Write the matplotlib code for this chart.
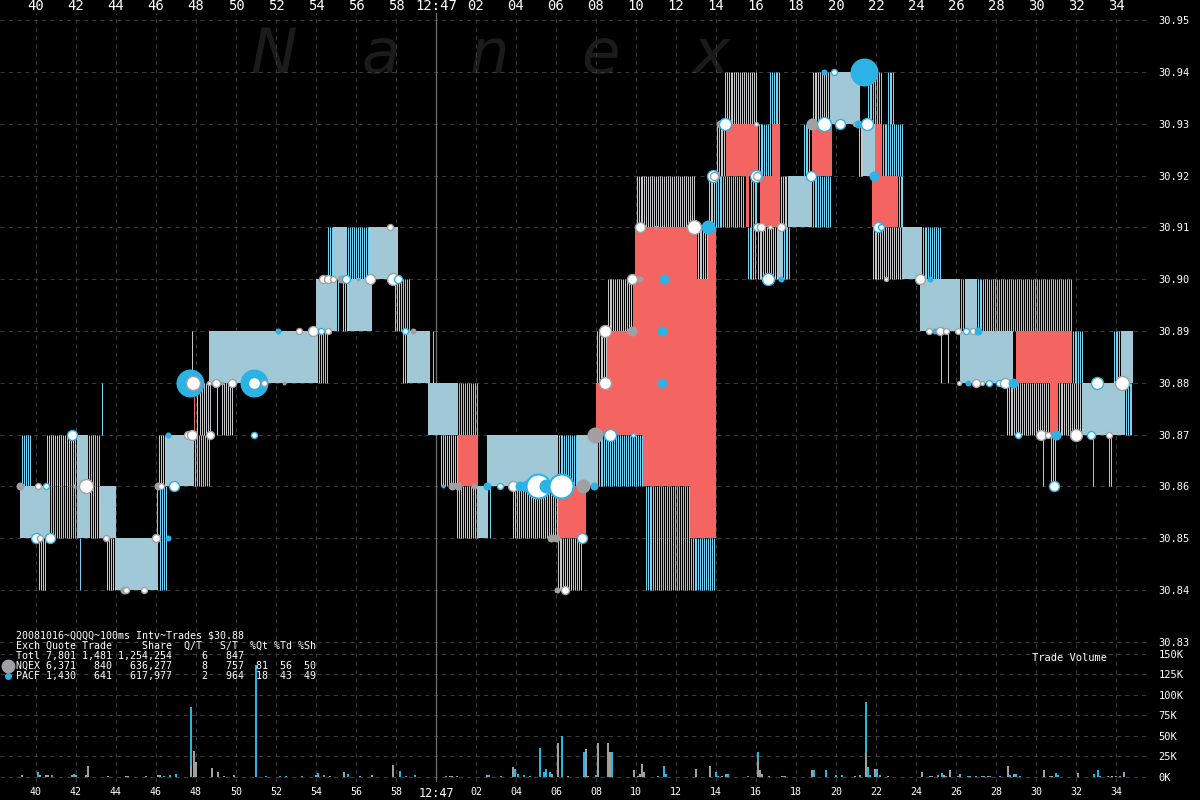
import numpy as np
import matplotlib
matplotlib.use("Agg")
import matplotlib.pyplot as plt

# time axis = seconds after 12:46:00 (60 -> 12:47:00)
# quote bands: start, end, low, high, state (S = both at NBBO, G = NQEX only,
# B = PACF only, R = crossed/locked)
seg_t0 = [39.25, 39.2, 40.5, 42.1, 42.6, 40.7, 42.1, 42.7, 43.2, 40.1,
          42.15, 43.25, 43.5, 43.95, 46.05, 46.1, 46.5, 47.9, 47.8, 47.9,
          48.05, 49.0, 49.25, 48.65, 54.1, 54.0, 55.05, 55.3, 55.6, 54.55,
          54.85, 55.55, 56.65, 57.9, 58.2, 58.3, 58.6, 59.8, 59.6, 61.1,
          60.2, 61.1, 61.0, 62.05, 62.65, 62.55, 66.1, 67.05, 68.1, 63.8,
          66.1, 66.05, 68.0, 68.0, 68.55, 68.55, 69.85, 69.95, 73.05, 73.6,
          70.35, 72.7, 70.45, 72.7, 70.0, 73.6, 73.95, 75.5, 75.7, 76.2,
          77.2, 77.6, 78.8, 74.0, 74.5, 76.1, 76.8, 78.35, 78.8, 81.1,
          81.35, 81.95, 82.3, 74.4, 76.65, 78.8, 79.7, 81.55, 82.55, 75.55,
          76.05, 77.1, 77.35, 81.8, 83.3, 84.3, 81.8, 83.1, 84.2, 86.2,
          86.45, 87.05, 85.2, 85.55, 86.2, 89.0, 91.8, 93.85, 94.25, 88.5,
          90.7, 91.1, 92.3, 94.45, 90.3, 90.7, 92.8, 93.6]
seg_t1 = [39.7, 40.7, 42.1, 42.6, 43.2, 42.1, 42.7, 43.2, 44.0, 40.45,
          42.2, 43.3, 43.95, 46.05, 46.5, 46.5, 47.9, 48.7, 47.85, 47.95,
          48.75, 49.05, 49.85, 54.1, 54.6, 55.05, 55.15, 55.6, 56.8, 54.85,
          55.55, 56.65, 58.1, 58.2, 58.7, 58.6, 59.7, 59.85, 61.1, 62.1,
          61.1, 62.1, 62.05, 62.6, 62.7, 66.1, 67.05, 68.1, 70.35, 66.05,
          67.5, 67.35, 68.55, 74.0, 74.0, 69.85, 74.0, 73.05, 73.6, 74.0,
          74.0, 74.0, 72.7, 74.0, 72.95, 74.05, 75.45, 75.65, 76.05, 77.2,
          77.6, 78.8, 79.8, 74.5, 76.1, 76.8, 77.2, 78.7, 79.8, 81.35,
          81.95, 82.3, 83.35, 76.05, 77.2, 79.7, 81.2, 82.3, 82.9, 76.05,
          77.1, 77.35, 77.7, 83.3, 84.3, 85.3, 83.1, 83.35, 86.2, 86.45,
          87.05, 91.8, 85.3, 85.65, 88.85, 91.8, 92.35, 94.25, 94.85, 90.7,
          91.1, 92.3, 94.45, 94.85, 90.35, 90.95, 92.85, 93.8]
seg_lo = [30.86, 30.85, 30.86, 30.86, 30.86, 30.85, 30.85, 30.85, 30.85, 30.84,
          30.84, 30.87, 30.84, 30.84, 30.84, 30.86, 30.86, 30.86, 30.88, 30.87,
          30.87, 30.87, 30.87, 30.88, 30.88, 30.89, 30.89, 30.89, 30.89, 30.90,
          30.90, 30.90, 30.90, 30.89, 30.89, 30.88, 30.88, 30.88, 30.87, 30.87,
          30.86, 30.86, 30.85, 30.85, 30.85, 30.86, 30.86, 30.86, 30.86, 30.85,
          30.85, 30.84, 30.88, 30.87, 30.88, 30.89, 30.89, 30.90, 30.90, 30.90,
          30.86, 30.85, 30.84, 30.84, 30.91, 30.91, 30.91, 30.91, 30.91, 30.91,
          30.91, 30.91, 30.91, 30.92, 30.92, 30.92, 30.92, 30.92, 30.92, 30.92,
          30.92, 30.92, 30.92, 30.93, 30.93, 30.93, 30.93, 30.93, 30.93, 30.90,
          30.90, 30.90, 30.90, 30.90, 30.90, 30.90, 30.91, 30.91, 30.89, 30.89,
          30.89, 30.89, 30.88, 30.88, 30.88, 30.88, 30.88, 30.88, 30.88, 30.87,
          30.87, 30.87, 30.87, 30.87, 30.86, 30.86, 30.86, 30.86]
seg_hi = [30.87, 30.86, 30.87, 30.87, 30.87, 30.86, 30.86, 30.86, 30.86, 30.85,
          30.85, 30.88, 30.85, 30.85, 30.86, 30.87, 30.87, 30.87, 30.89, 30.88,
          30.88, 30.88, 30.88, 30.89, 30.89, 30.90, 30.90, 30.90, 30.90, 30.91,
          30.91, 30.91, 30.91, 30.90, 30.90, 30.89, 30.89, 30.89, 30.88, 30.88,
          30.87, 30.87, 30.86, 30.86, 30.86, 30.87, 30.87, 30.87, 30.87, 30.86,
          30.86, 30.85, 30.89, 30.88, 30.89, 30.90, 30.90, 30.91, 30.91, 30.91,
          30.87, 30.86, 30.86, 30.85, 30.92, 30.92, 30.92, 30.92, 30.92, 30.92,
          30.92, 30.92, 30.92, 30.93, 30.93, 30.93, 30.93, 30.93, 30.93, 30.93,
          30.93, 30.93, 30.93, 30.94, 30.94, 30.94, 30.94, 30.94, 30.94, 30.91,
          30.91, 30.91, 30.91, 30.91, 30.91, 30.91, 30.92, 30.92, 30.90, 30.90,
          30.90, 30.90, 30.89, 30.89, 30.89, 30.89, 30.89, 30.89, 30.89, 30.88,
          30.88, 30.88, 30.88, 30.88, 30.87, 30.87, 30.87, 30.87]
seg_kind = ("BSGSBBSGSG" "BBGSBGSBGR" "GGGSBSBGSB" "SBSGBGSBSB"
            "GRGSBSBSBG" "RGGRRGRRGR" "RRBBGGBRBR" "GSBGRBRBRG"
            "SRBGBGSBBB" "GSBGSBRBSB" "SBGGSRBBSG" "RGSBGGBG")

# trades: time, price, exchange (N = NQEX, P = PACF), dot radius, open dot
trade_t = [39.2, 40.1, 40.5, 41.9, 42.5, 40.0, 40.2, 40.7, 41.8, 43.5,
           44.4, 44.5, 45.4, 46.0, 46.6, 46.1, 46.25, 46.9, 46.6, 47.6,
           47.8, 48.7, 47.7, 47.85, 48.65, 49.0, 49.3, 49.8, 50.9, 50.9,
           51.4, 52.4, 50.9, 52.1, 53.15, 53.85, 54.25, 54.6, 54.35, 54.6,
           54.85, 55.25, 55.5, 56.1, 56.7, 57.85, 58.1, 57.7, 58.45, 58.85,
           60.35, 60.8, 61.1, 61.9, 62.55, 63.2, 63.85, 64.2, 64.55, 65.1,
           65.5, 66.25, 67.35, 67.9, 65.75, 66.0, 67.3, 66.05, 66.45, 67.95,
           68.7, 69.85, 68.45, 68.45, 69.8, 71.3, 71.3, 71.4, 69.8, 70.2,
           70.2, 71.0, 72.9, 73.6, 73.85, 73.9, 76.0, 76.05, 74.2, 74.45,
           76.0, 76.05, 76.25, 76.7, 77.25, 76.6, 77.25, 78.75, 78.8, 79.4,
           80.2, 80.95, 81.1, 81.55, 79.4, 79.9, 81.4, 81.9, 82.1, 82.25,
           82.5, 84.2, 84.7, 84.65, 84.95, 85.2, 85.5, 86.1, 86.5, 86.85,
           87.1, 86.15, 86.6, 87.0, 87.3, 87.65, 88.15, 88.45, 88.85, 93.05,
           94.3, 89.1, 90.25, 90.6, 91.0, 92.0, 92.75, 93.65, 90.9]
trade_px = [30.86, 30.86, 30.86, 30.86, 30.86, 30.85, 30.85, 30.85, 30.87, 30.85,
            30.84, 30.84, 30.84, 30.85, 30.85, 30.86, 30.86, 30.86, 30.87, 30.87,
            30.87, 30.87, 30.88, 30.88, 30.88, 30.88, 30.88, 30.88, 30.88, 30.88,
            30.88, 30.88, 30.87, 30.89, 30.89, 30.89, 30.89, 30.89, 30.90, 30.90,
            30.90, 30.90, 30.90, 30.90, 30.90, 30.90, 30.90, 30.91, 30.89, 30.89,
            30.86, 30.86, 30.86, 30.86, 30.86, 30.86, 30.86, 30.86, 30.86, 30.86,
            30.86, 30.86, 30.86, 30.86, 30.85, 30.85, 30.85, 30.84, 30.84, 30.87,
            30.87, 30.87, 30.88, 30.89, 30.89, 30.89, 30.88, 30.90, 30.90, 30.90,
            30.91, 30.91, 30.91, 30.91, 30.92, 30.92, 30.92, 30.92, 30.93, 30.93,
            30.93, 30.91, 30.91, 30.91, 30.91, 30.90, 30.90, 30.92, 30.93, 30.93,
            30.93, 30.93, 30.93, 30.93, 30.94, 30.94, 30.94, 30.92, 30.91, 30.91,
            30.90, 30.90, 30.90, 30.89, 30.89, 30.89, 30.89, 30.89, 30.89, 30.89,
            30.89, 30.88, 30.88, 30.88, 30.88, 30.88, 30.88, 30.88, 30.88, 30.88,
            30.88, 30.87, 30.87, 30.87, 30.87, 30.87, 30.87, 30.87, 30.86]
trade_ex = ("NNPNNPNPPN" "NNNNPNNPPN" "NNPNNNNNPP" "NNPPNNPNNN"
            "NNPNNNPNPN" "PNNNPPNPPP" "PPNPNNPNNN" "PPNNNPPPNN"
            "NNNPPNPNNP" "NPNNNPPPNP" "PNPPPPPPPP" "NNPNPNNNPN"
            "PNPNNPPNPP" "NPNNPNPNP")
trade_r = [4, 3, 3, 2, 7, 5, 3, 5, 5, 3,
           4, 3, 3, 4, 3, 4, 3, 5, 3, 4,
           5, 4, 14, 7, 2, 4, 2, 4, 14, 6,
           3, 2, 3, 3, 3, 5, 3, 3, 4, 4,
           3, 4, 4, 2, 5, 6, 4, 3, 3, 3,
           2, 4, 4, 3, 4, 3, 5, 5, 6, 12,
           7, 12, 7, 4, 4, 4, 5, 3, 4, 8,
           6, 2, 6, 6, 5, 5, 5, 5, 5, 3,
           5, 2, 7, 7, 6, 4, 6, 4, 4, 6,
           2, 4, 4, 2, 4, 6, 3, 5, 6, 7,
           5, 2, 4, 6, 3, 3, 14, 5, 5, 3,
           2, 5, 3, 3, 3, 4, 3, 3, 3, 3,
           4, 2, 3, 4, 2, 3, 3, 5, 5, 6,
           7, 3, 5, 3, 5, 6, 4, 3, 5]
trade_open = ("0110111111" "0111001101" "1101110101" "1010111111"
              "1010111110" "0000011001" "0100001010" "1111000010"
              "1010111101" "1111110101" "1101010011" "1101011111"
              "0101111101" "1111011111")

# trade volume per 100ms bin, thousands of shares
voln_t = [39.25, 40.15, 40.45, 40.55, 41.75, 41.95, 42.45, 42.55, 43.55, 44.45,
          44.55, 45.45, 46.05, 46.15, 47.7, 47.85, 47.95, 48.75, 49.05, 49.35,
          49.85, 53.95, 54.65, 55.35, 56.75, 57.8, 60.65, 60.75, 61.0, 62.5,
          63.8, 65.75, 66.05, 66.55, 67.45, 67.55, 68.05, 68.55, 68.65, 69.85,
          70.05, 70.15, 70.25, 70.35, 71.05, 72.95, 73.65, 74.25, 74.45, 76.05,
          76.15, 76.25, 77.25, 77.4, 78.75, 80.9, 81.45, 81.9, 82.55, 84.25,
          84.65, 84.75, 85.05, 85.35, 85.45, 85.65, 86.15, 86.95, 87.35, 87.55,
          88.55, 88.85, 90.35, 90.65, 90.75, 92.05, 93.55, 93.75, 93.95, 94.35]
voln_k = [2, 2, 2, 2, 2, 2, 2, 13, 1, 1,
          1, 1, 2, 2, 13, 32, 18, 11, 6, 1,
          2, 2, 1, 6, 2, 15, 1, 1, 1, 3,
          12, 4, 41, 1, 34, 1, 41, 41, 31, 9,
          1, 4, 16, 6, 1, 10, 13, 1, 4, 18,
          8, 4, 1, 1, 8, 1, 28, 10, 1, 6,
          1, 1, 3, 3, 1, 8, 4, 1, 1, 1,
          13, 4, 8, 1, 1, 5, 1, 1, 1, 6]
volp_t = [40.05, 40.75, 41.85, 46.35, 46.65, 46.95, 47.7, 50.95, 51.45, 52.15,
          52.45, 53.25, 54.05, 54.35, 55.55, 56.15, 58.15, 58.45, 58.9, 60.45,
          62.6, 63.2, 63.9, 64.05, 64.35, 64.65, 65.15, 65.35, 65.45, 65.65,
          66.25, 67.35, 67.95, 68.75, 71.35, 71.45, 73.95, 74.05, 74.55, 75.55,
          76.05, 76.6, 77.3, 78.85, 79.45, 79.95, 80.25, 81.15, 81.45, 81.55,
          81.65, 82.0, 82.15, 85.25, 86.05, 86.55, 86.65, 87.25, 87.65, 88.15,
          88.65, 88.95, 89.15, 90.95, 91.05, 92.85, 93.05, 93.15, 94.15]
volp_k = [6, 2, 4, 1, 2, 4, 85, 136, 1, 1,
          1, 1, 5, 2, 4, 1, 7, 1, 3, 1,
          3, 1, 10, 4, 3, 1, 35, 6, 10, 6,
          50, 31, 2, 30, 14, 4, 6, 1, 4, 1,
          30, 1, 1, 9, 8, 2, 3, 3, 92, 12,
          3, 10, 3, 5, 1, 1, 1, 1, 1, 1,
          3, 4, 1, 5, 3, 4, 8, 1, 1]

stats_lines = [
    "20081016~QQQQ~100ms Intv~Trades $30.88",
    "Exch Quote Trade     Share  Q/T   S/T  %Qt %Td %Sh",
    "Totl 7,801 1,481 1,254,254     6   847",
    "NQEX 6,371   840   636,277     8   757  81  56  50",
    "PACF 1,430   641   617,977     2   964  18  43  49",
]

BLUE = "#2cb3e6"
GRAY = "#a0a0a2"
RED = "#f46562"
LBLUE = "#74d2f4"
LGRAY = "#c4c6c8"
MIX = "#a0c8d6"
GRID = "#3a3a3a"
MONO = "DejaVu Sans Mono"

plt.rcParams["font.family"] = MONO

fig = plt.figure(figsize=(12, 8), dpi=100, facecolor="black")
ax = fig.add_axes([0, 152 / 800, 1150 / 1200, 635 / 800])
axv = fig.add_axes([0, 18 / 800, 1150 / 1200, 134 / 800])

for a in (ax, axv):
    a.set_facecolor("black")
    for s in a.spines.values():
        s.set_visible(False)
    a.set_axisbelow(True)
    a.grid(True, color=GRID, linestyle=(0, (4, 4)), linewidth=0.75)
    a.set_xlim(38.2, 95.7)
    a.axvline(60, color="#707070", linewidth=0.9, zorder=1)

ax.set_ylim(30.8288, 30.95139)
axv.set_ylim(-6.1, 157.3)

# watermark
for ch, xp in zip("Nanex", [274, 381, 490, 600, 711]):
    ax.text(xp / 1200, 1 - 73 / 800, ch, transform=fig.transFigure,
            ha="center", va="baseline", fontsize=45, style="italic",
            family="DejaVu Sans", color="#1b1b1b", zorder=0.1)


# quote bands, one 1px line per 100ms
def stripes(t0, t1, lo, hi, color):
    ts = np.arange(t0, t1 - 1e-6, 0.1) + 0.025
    ax.vlines(ts, lo, hi, colors=color, linewidth=0.72, zorder=2)


for t0, t1, lo, hi, k in zip(seg_t0, seg_t1, seg_lo, seg_hi, seg_kind):
    if k == "R":
        ax.bar(t0, hi - lo, width=t1 - t0, bottom=lo, align="edge",
               color=RED, linewidth=0, zorder=3)
    elif k == "S":
        ax.bar(t0, hi - lo, width=t1 - t0, bottom=lo, align="edge",
               color=MIX, linewidth=0, zorder=2)
    elif k == "G":
        stripes(t0, t1, lo, hi, LGRAY)
    else:
        stripes(t0, t1, lo, hi, LBLUE)

# trades
for t, p, ex, r, op in zip(trade_t, trade_px, trade_ex, trade_r, trade_open):
    col = BLUE if ex == "P" else GRAY
    size = (2 * r * 0.72) ** 2
    if op == "1":
        lw = 1.5 if r >= 8 else 1.0
        ax.scatter([t], [p], s=size, facecolor="white", edgecolor=col,
                   linewidth=lw, zorder=5)
    else:
        ax.scatter([t], [p], s=size, color=col, linewidth=0, zorder=5)

# volume
axv.bar(volp_t, volp_k, width=0.1, align="edge", color=BLUE, linewidth=0, zorder=3)
axv.bar(voln_t, voln_k, width=0.1, align="edge", color=GRAY, linewidth=0, zorder=4)

# ticks
xt = list(range(40, 95, 2))
xl = [str(t) if t < 60 else ("12:47" if t == 60 else "%02d" % (t - 60)) for t in xt]
for a in (ax, axv):
    a.set_xticks(xt)
    labs = a.set_xticklabels(xl)
    for lb in labs:
        lb.set_fontsize(8.5 if lb.get_text() == "12:47" else 7.2)
    a.yaxis.tick_right()
    a.tick_params(axis="y", length=0, pad=6, colors="white", labelsize=7.5)
ax.tick_params(axis="x", length=0, top=True, bottom=False, labeltop=True,
               labelbottom=False, pad=0, colors="white")
axv.tick_params(axis="x", length=0, pad=3.5, colors="white")

pt = np.round(np.arange(30.83, 30.955, 0.01), 2)
ax.set_yticks(pt)
ax.set_yticklabels(["%.2f" % v for v in pt])
vt = list(range(0, 151, 25))
axv.set_yticks(vt)
axv.set_yticklabels(["%dK" % v for v in vt])

# stats block
for i, line in enumerate(stats_lines):
    fig.text(16 / 1200, 1 - (636 + 10 * i) / 800, line, color="white",
             fontsize=7.2, va="center", family=MONO, zorder=6)
fig.lines.append(plt.Line2D([8 / 1200], [1 - 666 / 800], marker="o",
                            markersize=9, color=GRAY, linestyle="none",
                            transform=fig.transFigure))
fig.lines.append(plt.Line2D([8 / 1200], [1 - 676 / 800], marker="o",
                            markersize=4, color=BLUE, linestyle="none",
                            transform=fig.transFigure))
fig.text(1032 / 1200, 1 - 658 / 800, "Trade Volume", color="white",
         fontsize=7.5, va="center")

fig.savefig("out.png", dpi=100, facecolor="black")
